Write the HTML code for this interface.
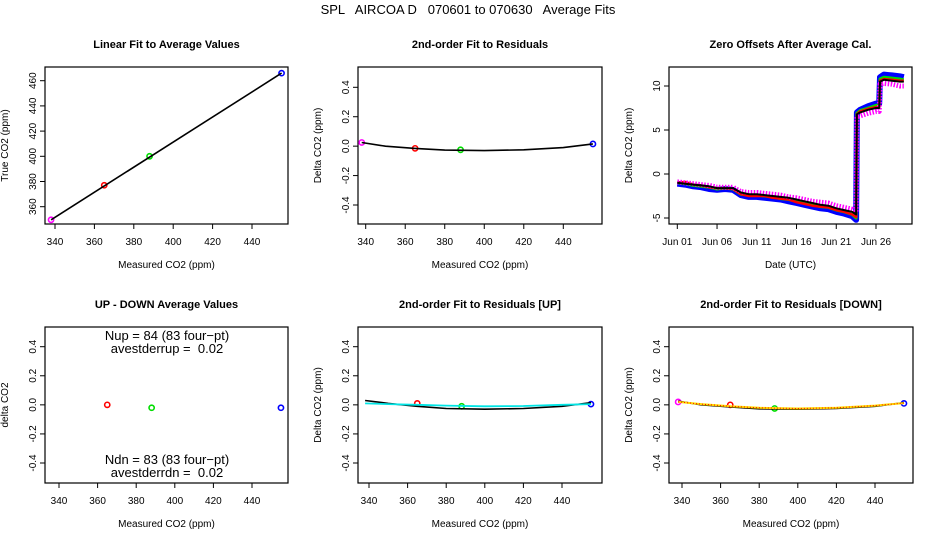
<!DOCTYPE html>
<html><head><meta charset="utf-8"><style>
body{margin:0;background:#fff;}
svg{display:block;font-family:"Liberation Sans",sans-serif;}
</style></head><body>
<svg id="s" width="936" height="540" xmlns="http://www.w3.org/2000/svg">
<text x="468" y="14" text-anchor="middle" font-size="13" style="white-space:pre" xml:space="preserve">SPL   AIRCOA D   070601 to 070630   Average Fits</text>
</svg>
<script>
// ---- data ----
const xTicks=[340,360,380,400,420,440];
const yTicksLin=[360,380,400,420,440,460];
const yTicksRes=[-0.4,-0.2,0.0,0.2,0.4];
const yTicksZero=[-5,0,5,10];
const dateTicks=[0,5,10,15,20,25];
const dateLabels=["Jun 01","Jun 06","Jun 11","Jun 16","Jun 21","Jun 26"];
const ptColors=["#ff00ff","#ff0000","#00dd00","#0000ff"];
const measured=[338,365,388,455];
const trueVals=[349.6,377,400,466];
const fitX=[338,350,365,380,400,420,440,455];
const resid=[0.025,-0.015,-0.025,0.015];
const residFit=[0.025,0.0,-0.015,-0.027,-0.03,-0.025,-0.01,0.015];
const upMeas=[365,388,455];
const upDiff=[0.0,-0.02,-0.02];
const upResid=[0.01,-0.01,0.005];
const upFitBlack=[0.03,0.01,-0.01,-0.025,-0.03,-0.025,-0.01,0.015];
const upFitCyan=[0.01,0.005,0.0,-0.005,-0.01,-0.008,0.0,0.005];
const dnResid=[0.02,0.0,-0.025,0.01];
const dnFit=[0.02,0.005,-0.01,-0.02,-0.025,-0.02,-0.005,0.012];
const days=[0,1,2,3,4,5,6,7,8,9,10,11,12,13,14,15,16,17,18,19,20,21,22,22.5,22.6,23,24,25,25.4,25.5,26,27,28,28.5];
const zeroBlack=[-1,-1.1,-1.2,-1.3,-1.4,-1.6,-1.6,-1.6,-2.1,-2.3,-2.3,-2.4,-2.5,-2.6,-2.7,-2.9,-3.1,-3.3,-3.5,-3.6,-3.9,-4.1,-4.3,-4.6,6.8,7.0,7.3,7.5,7.5,10.5,10.7,10.6,10.5,10.5];
const zeroBlue=[-1.1,-1.2,-1.4,-1.5,-1.7,-1.8,-1.7,-1.8,-2.4,-2.6,-2.6,-2.7,-2.8,-2.9,-3.1,-3.3,-3.5,-3.7,-3.9,-4.0,-4.3,-4.5,-4.8,-5.2,7.0,7.3,7.7,8.0,8.0,11.0,11.3,11.2,11.1,11.0];
const zeroMag=[-0.9,-1.0,-1.1,-1.2,-1.3,-1.5,-1.5,-1.5,-2.0,-2.1,-2.1,-2.2,-2.3,-2.4,-2.6,-2.7,-2.9,-3.1,-3.2,-3.3,-3.6,-3.8,-4.0,-4.3,6.5,6.6,6.9,7.1,7.1,10.2,10.3,10.2,10.0,10.0];
const zeroGreen=[-1,-1.1,-1.3,-1.4,-1.5,-1.7,-1.6,-1.7,-2.3,-2.4,-2.4,-2.5,-2.6,-2.8,-2.9,-3.1,-3.3,-3.5,-3.7,-3.8,-4.1,-4.3,-4.6,-5.0,6.9,7.2,7.5,7.8,7.8,10.8,11.0,10.9,10.8,10.7];
const zeroRed=[-1,-0.9,-1.2,-1.3,-1.5,-1.6,-1.6,-1.7,-2.3,-2.5,-2.5,-2.5,-2.7,-2.8,-2.9,-3.2,-3.4,-3.6,-3.7,-3.8,-4.1,-4.3,-4.6,-4.9,6.8,7.1,7.4,7.6,7.6,10.6,10.8,10.7,10.6,10.6];

const S=document.getElementById('s');const NS='http://www.w3.org/2000/svg';
function mk(tag,at,parent){const e=document.createElementNS(NS,tag);for(const k in at)e.setAttribute(k,at[k]);(parent||S).appendChild(e);return e;}
function lin(d0,d1,p0,p1){return v=>p0+(v-d0)*(p1-p0)/(d1-d0);}
function panel(name,box,title,xl,yl,xs,ys,xt,xtl,yt,ytl){
  const g=mk('g',{});
  const [x0,x1,y0,y1]=box;
  const r=mk('rect',{x:x0,y:y0,width:x1-x0,height:y1-y0,fill:'none',stroke:'#000','stroke-width':1.2},g);
  
  const t=mk('text',{x:(x0+x1)/2,y:y0-19,'text-anchor':'middle','font-size':11,'font-weight':'bold'},g);t.textContent=title;
  
  const xa=mk('g',{},g);
  mk('line',{x1:xs(xt[0]),x2:xs(xt[xt.length-1]),y1:y1,y2:y1,stroke:'#000'},xa);
  xt.forEach((v,i)=>{const X=xs(v);mk('line',{x1:X,x2:X,y1:y1,y2:y1+5,stroke:'#000'},xa);
    const l=mk('text',{x:X,y:y1+21,'text-anchor':'middle','font-size':10},xa);l.textContent=xtl[i];
    });
  const xt2=mk('text',{x:(x0+x1)/2,y:y1+44,'text-anchor':'middle','font-size':10},g);xt2.textContent=xl;
  
  const ya=mk('g',{},g);
  mk('line',{x1:x0,x2:x0,y1:ys(yt[0]),y2:ys(yt[yt.length-1]),stroke:'#000'},ya);
  yt.forEach((v,i)=>{const Y=ys(v);mk('line',{x1:x0,x2:x0-5,y1:Y,y2:Y,stroke:'#000'},ya);
    const l=mk('text',{x:x0-9,y:Y,'text-anchor':'middle','font-size':10,transform:`rotate(-90 ${x0-9} ${Y})`},ya);l.textContent=ytl[i];
    });
  const yx=x0-37,yy=(y0+y1)/2;
  const yt2=mk('text',{x:yx,y:yy,'text-anchor':'middle','font-size':10,transform:`rotate(-90 ${yx} ${yy})`},g);yt2.textContent=yl;
  
  return g;
}
function line(g,xs,ys,X,Y,col,w,name,dash){
  const d=X.map((v,i)=>(i?'L':'M')+xs(v).toFixed(1)+','+ys(Y[i]).toFixed(1)).join('');
  const p=mk('path',{d:d,fill:'none',stroke:col,'stroke-width':w,'stroke-linejoin':'round'},g);
  if(dash)p.setAttribute('stroke-dasharray',dash);
  return p;
}
function pts(g,xs,ys,X,Y,cols,name){
  X.forEach((v,i)=>{const c=mk('circle',{cx:xs(v),cy:ys(Y[i]),r:2.6,fill:'none',stroke:cols[i],'stroke-width':1.6},g);
    });
}
const resLab=yTicksRes.map(v=>v.toFixed(1));
// top-left
let xs=lin(340,440,55,252),ys=lin(360,460,206.7,80.7);
let g=panel('linear-fit-panel',[45,288,67,224],'Linear Fit to Average Values','Measured CO2 (ppm)','True CO2 (ppm)',xs,ys,xTicks,xTicks.map(String),yTicksLin,yTicksLin.map(String));
pts(g,xs,ys,measured,trueVals,ptColors,'average-point');
line(g,xs,ys,[measured[0],measured[3]],[trueVals[0],trueVals[3]],'#000',1.6,'linear-fit-line');
// top-mid
xs=lin(340,440,365.7,563.3);ys=lin(-0.4,0.4,205,87.3);
g=panel('residual-fit-panel',[358,602,67,224],'2nd-order Fit to Residuals','Measured CO2 (ppm)','Delta CO2 (ppm)',xs,ys,xTicks,xTicks.map(String),yTicksRes,resLab);
pts(g,xs,ys,measured,resid,ptColors,'residual-point');
line(g,xs,ys,fitX,residFit,'#000',1.6,'quadratic-fit-line');
// top-right
xs=lin(0,25,677.3,876);ys=lin(-5,10,218,86);
g=panel('zero-offsets-panel',[669,912,67,224],'Zero Offsets After Average Cal.','Date (UTC)','Delta CO2 (ppm)',xs,ys,dateTicks,dateLabels,yTicksZero,yTicksZero.map(String));
line(g,xs,ys,days,zeroBlue,'#0000ff',6,'zero-offset-blue');
line(g,xs,ys,days,zeroGreen,'#00dd00',3,'zero-offset-green');
line(g,xs,ys,days,zeroRed,'#ff0000',2.5,'zero-offset-red');
line(g,xs,ys,days,zeroMag,'#ff00ff',5,'zero-offset-magenta','1.5 1.5');
line(g,xs,ys,days,zeroBlack,'#000',2,'zero-offset-black');
// bottom-left
xs=lin(340,440,59,252);ys=lin(-0.4,0.4,463,346.7);
g=panel('up-down-panel',[45,288,327,483],'UP - DOWN Average Values','Measured CO2 (ppm)','delta CO2',xs,ys,xTicks,xTicks.map(String),yTicksRes,resLab);
pts(g,xs,ys,upMeas,upDiff,ptColors.slice(1),'up-down-point');
[['Nup = 84 (83 four\u2212pt)',336,'n-up-label'],['avestderrup =  0.02',349,'stderr-up-label'],['Ndn = 83 (83 four\u2212pt)',460,'n-down-label'],['avestderrdn =  0.02',473,'stderr-down-label']].forEach(a=>{
 const t=mk('text',{x:167,y:a[1]+4,'text-anchor':'middle','font-size':13},g);t.textContent=a[0];
 t.setAttribute('style','white-space:pre');
 });
// bottom-mid
xs=lin(340,440,369,562);
g=panel('residual-up-panel',[358,602,327,483],'2nd-order Fit to Residuals [UP]','Measured CO2 (ppm)','Delta CO2 (ppm)',xs,ys,xTicks,xTicks.map(String),yTicksRes,resLab);
pts(g,xs,ys,upMeas,upResid,ptColors.slice(1),'residual-up-point');
line(g,xs,ys,fitX,upFitBlack,'#000',1.6,'quadratic-fit-black');
line(g,xs,ys,fitX,upFitCyan,'#00e5e5',1.8,'quadratic-fit-up');
// bottom-right
xs=lin(340,440,682,875);
g=panel('residual-down-panel',[669,913,327,483],'2nd-order Fit to Residuals [DOWN]','Measured CO2 (ppm)','Delta CO2 (ppm)',xs,ys,xTicks,xTicks.map(String),yTicksRes,resLab);
pts(g,xs,ys,measured,dnResid,ptColors,'residual-down-point');
line(g,xs,ys,fitX,residFit,'#000',1.6,'quadratic-fit-black');
line(g,xs,ys,fitX,dnFit,'#ffdd00',2,'quadratic-fit-down');
line(g,xs,ys,fitX,dnFit,'#ff0000',1,'quadratic-fit-down-dots','1 2');
</script>
</body></html>
